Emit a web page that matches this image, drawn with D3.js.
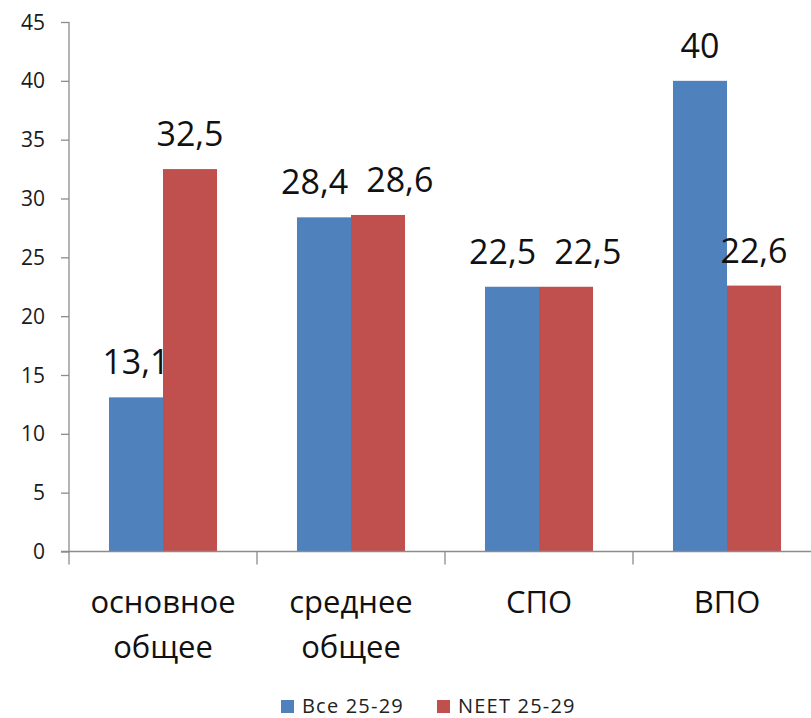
<!DOCTYPE html>
<html>
<head>
<meta charset="utf-8">
<script src="https://cdn.jsdelivr.net/npm/d3@7"></script>
<style>
  html, body { margin: 0; padding: 0; background: #fff; }
  svg { display: block; }
</style>
</head>
<body>
<svg id="chart" width="811" height="718"></svg>
<script>
const categories = ["основное общее", "среднее общее", "СПО", "ВПО"];
const seriesNames = ["Все 25-29", "NEET 25-29"];
const allValues = [13.1, 28.4, 22.5, 40];
const neetValues = [32.5, 28.6, 22.5, 22.6];
const yTicks = [0, 5, 10, 15, 20, 25, 30, 35, 40, 45];
const colors = ["#4F81BD", "#C0504D"];

const FONT = "'Open Sans', 'Noto Sans', sans-serif";
const svg = d3.select("#chart");
const axisColor = "#8c8c8c";

const x0 = 69, x1End = 821, yTop = 22, yBase = 551.5;

const x = d3.scaleBand().domain(categories).range([x0, x1End]).paddingInner(0).paddingOuter(0);
const xs = d3.scaleBand().domain(seriesNames).range([0, x.bandwidth()]).paddingInner(0).paddingOuter(0.74);
const y = d3.scaleLinear().domain([0, 45]).range([yBase, yTop]);

const seriesValues = [allValues, neetValues];
const data = [];
categories.forEach((c, i) => {
  seriesNames.forEach((s, j) => {
    data.push({ cat: c, ser: s, si: j, v: seriesValues[j][i] });
  });
});

// Y axis
const yAxis = d3.axisLeft(y).tickValues(yTicks).tickSize(8).tickPadding(16).tickSizeOuter(0).tickFormat(d3.format("d"));
const gy = svg.append("g").attr("transform", `translate(${x0},0)`).call(yAxis);
gy.select(".domain").remove();
gy.selectAll(".tick line").attr("stroke", axisColor).attr("stroke-width", 1.3);
gy.selectAll(".tick text").attr("font-family", FONT).attr("font-size", 21).attr("fill", "#1a1a1a").attr("dy", "0.34em");
svg.append("line").attr("x1", x0).attr("x2", x0).attr("y1", yTop).attr("y2", yBase + 13)
  .attr("stroke", axisColor).attr("stroke-width", 1.3);

// Bars
svg.append("g").selectAll("rect").data(data).join("rect")
  .attr("x", d => x(d.cat) + xs(d.ser))
  .attr("width", xs.bandwidth())
  .attr("y", d => y(d.v))
  .attr("height", d => y(0) - y(d.v))
  .attr("fill", d => colors[d.si]);

// X axis line and boundary ticks
svg.append("line").attr("x1", x0 - 8).attr("x2", x1End).attr("y1", yBase).attr("y2", yBase)
  .attr("stroke", axisColor).attr("stroke-width", 1.3);
const bounds = categories.map(c => x(c)).concat([x1End]);
svg.append("g").selectAll("line").data(bounds.slice(1)).join("line")
  .attr("x1", d => d).attr("x2", d => d).attr("y1", yBase).attr("y2", yBase + 13)
  .attr("stroke", axisColor).attr("stroke-width", 1.3);

// Category labels
const catG = svg.append("g");
categories.forEach(c => {
  const lines = c.split(" ");
  const t = catG.append("text").attr("text-anchor", "middle")
    .attr("font-family", FONT).attr("font-size", 31).attr("fill", "#111");
  lines.forEach((ln, k) => {
    t.append("tspan").attr("x", x(c) + x.bandwidth() / 2).attr("y", 613 + k * 45).text(ln);
  });
});

// Data labels with simple collision avoidance
const fmt = v => String(v).replace(".", ",");
const lblG = svg.append("g");
const labels = data.map(d => {
  const t = lblG.append("text").attr("text-anchor", "middle")
    .attr("font-family", FONT).attr("font-size", 34).attr("fill", "#111")
    .attr("x", x(d.cat) + xs(d.ser) + xs.bandwidth() / 2)
    .attr("y", y(d.v) - 23)
    .text(fmt(d.v));
  return { d, t, cx: x(d.cat) + xs(d.ser) + xs.bandwidth() / 2, cy: y(d.v) - 23, w: t.node().getComputedTextLength() };
});
categories.forEach(c => {
  const pair = labels.filter(l => l.d.cat === c);
  const [L, R] = pair;
  if (Math.abs(L.cy - R.cy) < 30) {
    const need = (L.w + R.w) / 2 + 18;
    const dist = R.cx - L.cx;
    if (dist < need) {
      const extra = need - dist;
      L.t.attr("x", L.cx - extra * 0.3);
      R.t.attr("x", R.cx + extra * 0.7);
    }
  }
});

// Legend
const leg = svg.append("g");
const legX = [281, 437];
seriesNames.forEach((s, j) => {
  leg.append("rect").attr("x", legX[j]).attr("y", 700).attr("width", 13).attr("height", 13).attr("fill", colors[j]);
  leg.append("text").attr("x", legX[j] + 21).attr("y", 713)
    .attr("font-family", FONT).attr("font-size", 20).attr("letter-spacing", 1.2).attr("fill", "#222").text(s);
});
</script>
</body>
</html>
